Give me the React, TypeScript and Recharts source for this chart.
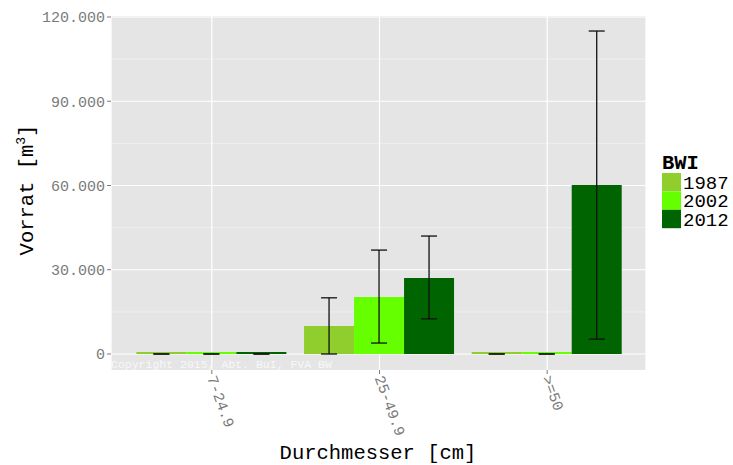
import React from "react";
import { BarChart, Bar, XAxis, YAxis, CartesianGrid, ErrorBar } from "recharts";

const classes = ["7-24.9", "25-49.9", ">=50"];
const years = ["1987", "2002", "2012"];
const colors = ["#8FCE2C", "#66FF00", "#006400"];

const vorrat1987 = [0, 10000, 0];
const vorrat2002 = [0, 20300, 0];
const vorrat2012 = [0, 27100, 60200];

const lower1987 = [0, 0, 0];
const upper1987 = [0, 20000, 0];
const lower2002 = [0, 3900, 0];
const upper2002 = [0, 37000, 0];
const lower2012 = [0, 12500, 5300];
const upper2012 = [0, 42000, 115000];

const majorTicks = [0, 30000, 60000, 90000, 120000];
const minorTicks = [15000, 45000, 75000, 105000];

const data = classes.map((klasse, i) => ({
  klasse,
  v1987: vorrat1987[i],
  v2002: vorrat2002[i],
  v2012: vorrat2012[i],
  e1987: [vorrat1987[i] - lower1987[i], upper1987[i] - vorrat1987[i]],
  e2002: [vorrat2002[i] - lower2002[i], upper2002[i] - vorrat2002[i]],
  e2012: [vorrat2012[i] - lower2012[i], upper2012[i] - vorrat2012[i]],
}));

const mono = "'Liberation Mono', 'DejaVu Sans Mono', monospace";
const tickGrey = "#7A7A7A";

const fmt = (v: number) => String(v).replace(/\B(?=(\d{3})+(?!\d))/g, ".");

const XTick = (props: any) => {
  const { x, y, payload } = props;
  return (
    <g transform={`translate(${x},${y})`}>
      <text
        transform="rotate(70)"
        textAnchor="start"
        dy="0.35em"
        fill={tickGrey}
        fontSize={15}
        fontFamily={mono}
      >
        {payload.value}
      </text>
    </g>
  );
};

export default function App() {
  return (
    <div style={{ position: "absolute", left: 0, top: 0, width: 733, height: 465, background: "#fff" }}>
      <BarChart
        width={733}
        height={465}
        data={data}
        margin={{ top: 16, right: 87, left: 31, bottom: 15 }}
        barCategoryGap="5%"
        barGap={0}
      >
        <CartesianGrid
          horizontalValues={minorTicks}
          vertical={false}
          stroke="#F2F2F2"
          strokeWidth={0.8}
          fill="#E5E5E5"
          fillOpacity={1}
        />
        <CartesianGrid horizontalValues={majorTicks} stroke="#FFFFFF" strokeWidth={1.2} />
        <XAxis
          dataKey="klasse"
          padding={{ left: 17, right: 15 }}
          axisLine={false}
          tickLine={{ stroke: tickGrey }}
          tickSize={4}
          height={80}
          interval={0}
          tick={<XTick />}
        />
        <YAxis
          width={80}
          domain={[-5700, 120350]}
          allowDataOverflow
          ticks={majorTicks}
          interval={0}
          axisLine={false}
          tickLine={{ stroke: tickGrey }}
          tickSize={4}
          tickFormatter={fmt}
          tick={{ fill: tickGrey, fontSize: 15, fontFamily: mono }}
        />
        {years.map((yr, k) => (
          <Bar key={yr} dataKey={`v${yr}`} fill={colors[k]} minPointSize={2} isAnimationActive={false}>
            <ErrorBar
              dataKey={`e${yr}`}
              direction="y"
              width={8}
              stroke="#111"
              strokeWidth={1.3}
              isAnimationActive={false}
            />
          </Bar>
        ))}
      </BarChart>
      <svg
        width={733}
        height={465}
        style={{ position: "absolute", left: 0, top: 0, pointerEvents: "none" }}
      >
        <text x={111} y={368} fontSize={11.5} fontFamily={mono} fill="#F8F8F8">
          Copyright 2015, Abt. BuI, FVA BW
        </text>
        <text x={378} y={459} textAnchor="middle" fontSize={20.5} fontFamily={mono} fill="#000">
          Durchmesser [cm]
        </text>
        <text
          x={33}
          y={190}
          transform="rotate(-90, 33, 190)"
          textAnchor="middle"
          fontSize={20.5}
          fontFamily={mono}
          fill="#000"
        >
          Vorrat [m
          <tspan dy={-8} fontSize={13}>3</tspan>
          <tspan dy={8}>]</tspan>
        </text>
        <text x={662} y={169} fontSize={20.5} fontWeight="bold" fontFamily={mono} fill="#000">
          BWI
        </text>
        {years.map((yr, k) => (
          <g key={yr}>
            <rect x={662} y={173 + k * 18.4} width={19} height={18.4} fill={colors[k]} />
            <text x={683} y={182.2 + k * 18.4} dy="0.35em" fontSize={19} fontFamily={mono} fill="#000">
              {yr}
            </text>
          </g>
        ))}
      </svg>
    </div>
  );
}
